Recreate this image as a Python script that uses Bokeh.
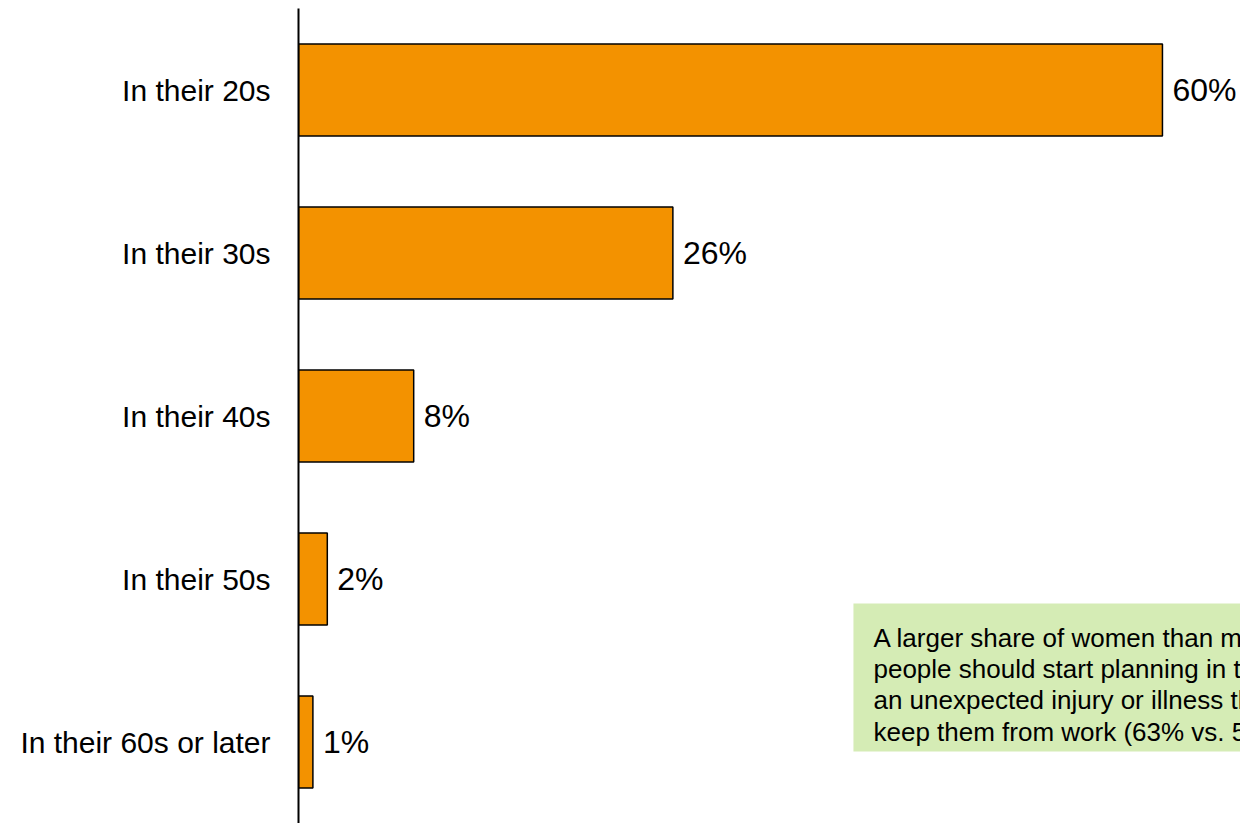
from bokeh.plotting import figure
from bokeh.models import Range1d, FixedTicker, ColumnDataSource
from bokeh.core.properties import value
from bokeh.embed import file_html
from bokeh.resources import INLINE

categories = ["In their 20s", "In their 30s", "In their 40s", "In their 50s", "In their 60s or later"]
values = [60, 26, 8, 2, 1]
value_labels = [f"{v}%" for v in values]
note_lines = [
    "A larger share of women than men say",
    "people should start planning in their 20s for",
    "an unexpected injury or illness that could",
    "keep them from work (63% vs. 56%).",
]

n = len(categories)
ypos = [n - 1 - i for i in range(n)]

src = ColumnDataSource(dict(y=ypos, v=values, lab=value_labels))

p = figure(width=1240, height=823, output_backend="svg", toolbar_location=None,
           x_range=Range1d(0, 65.42), y_range=Range1d(-0.5, 4.5),
           min_border_left=298, min_border_right=0, min_border_top=8, min_border_bottom=0)
p.outline_line_color = None
p.xaxis.visible = False
p.xgrid.visible = False
p.ygrid.visible = False
p.background_fill_color = "white"
p.border_fill_color = "white"

ax = p.yaxis[0]
ax.ticker = FixedTicker(ticks=ypos)
ax.major_label_overrides = {y: c for y, c in zip(ypos, categories)}
ax.major_tick_line_color = None
ax.minor_tick_line_color = None
ax.axis_line_color = "black"
ax.axis_line_width = 2
ax.major_label_standoff = 22
ax.major_label_text_font = "Liberation Sans"
ax.major_label_text_font_size = "30px"
ax.major_label_text_color = "black"

p.hbar(y="y", right="v", left=0, height=0.565, source=src,
       fill_color="#F39200", line_color="black", line_width=1.5)

p.text(x="v", y="y", text="lab", source=src, x_offset=10,
       text_baseline="middle", text_align="left",
       text_font=value("Liberation Sans"), text_font_size="32px", text_color="black")

# note box
p.quad(left=[38.54], right=[70], top=[0.85], bottom=[-0.058],
       fill_color="#D5ECB5", line_color=None)
note_y = [0.635, 0.445, 0.255, 0.064]
p.text(x=[39.93] * len(note_lines), y=note_y, text=note_lines,
       text_baseline="alphabetic", text_align="left",
       text_font=value("Liberation Sans"), text_font_size="26px", text_color="black")

open("out.html", "w").write(file_html(p, INLINE))
